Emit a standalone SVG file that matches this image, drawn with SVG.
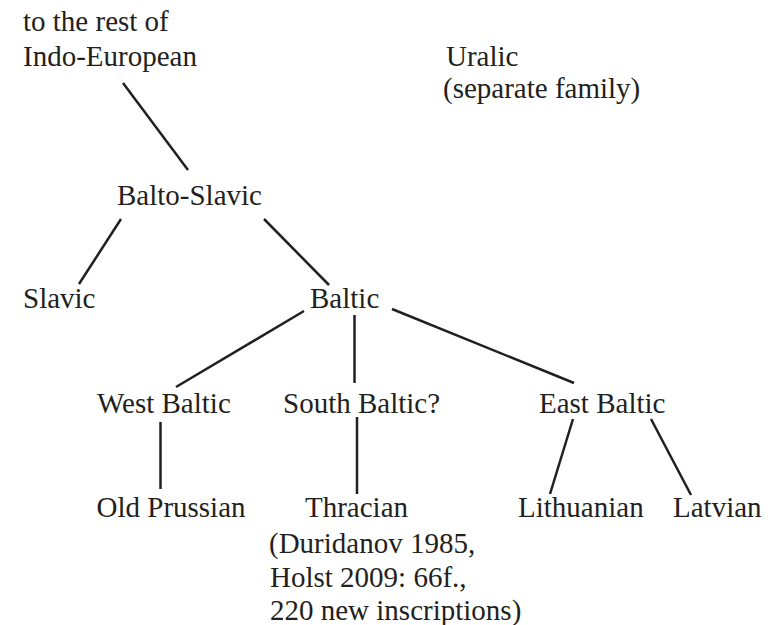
<svg xmlns="http://www.w3.org/2000/svg" width="780" height="625" viewBox="0 0 780 625">
<style>
text{font-family:"Liberation Serif","Times New Roman",serif;font-size:29px;fill:#231f20}
.c line{stroke:#231f20;stroke-width:2.5;stroke-linecap:butt}
</style>
<rect width="780" height="625" fill="#fff"/>
<g class="c" id="connectors">
<line x1="123" y1="83" x2="188" y2="170"/>
<line x1="121" y1="219" x2="79" y2="284"/>
<line x1="264" y1="219" x2="329" y2="285"/>
<line x1="304" y1="311" x2="176" y2="387"/>
<line x1="354.5" y1="315" x2="354.5" y2="383"/>
<line x1="392" y1="309" x2="574" y2="383"/>
<line x1="160.5" y1="422" x2="160.5" y2="489"/>
<line x1="357" y1="417" x2="357" y2="494"/>
<line x1="573" y1="419" x2="550" y2="494"/>
<line x1="651" y1="419" x2="691" y2="495"/>
</g>
<g id="ie"><text x="23" y="30.5">to the rest of</text><text x="23" y="65.5">Indo-European</text></g>
<g id="uralic"><text x="446" y="65.5">Uralic</text><text x="443" y="98">(separate family)</text></g>
<g id="baltoslavic"><text x="117" y="205">Balto-Slavic</text></g>
<g id="slavic"><text x="23" y="308">Slavic</text></g>
<g id="baltic"><text x="310" y="308">Baltic</text></g>
<g id="westbaltic"><text x="97" y="412.5">West Baltic</text></g>
<g id="southbaltic"><text x="283" y="412.5">South Baltic?</text></g>
<g id="eastbaltic"><text x="539" y="412.5">East Baltic</text></g>
<g id="oldprussian"><text x="96.5" y="516.5">Old Prussian</text></g>
<g id="thracian"><text x="305" y="516.5">Thracian</text><text x="269" y="553">(Duridanov 1985,</text><text x="270" y="587">Holst 2009: 66f.,</text><text x="270" y="620">220 new inscriptions)</text></g>
<g id="lithuanian"><text x="518" y="516.5">Lithuanian</text></g>
<g id="latvian"><text x="673" y="516.5">Latvian</text></g>
</svg>
